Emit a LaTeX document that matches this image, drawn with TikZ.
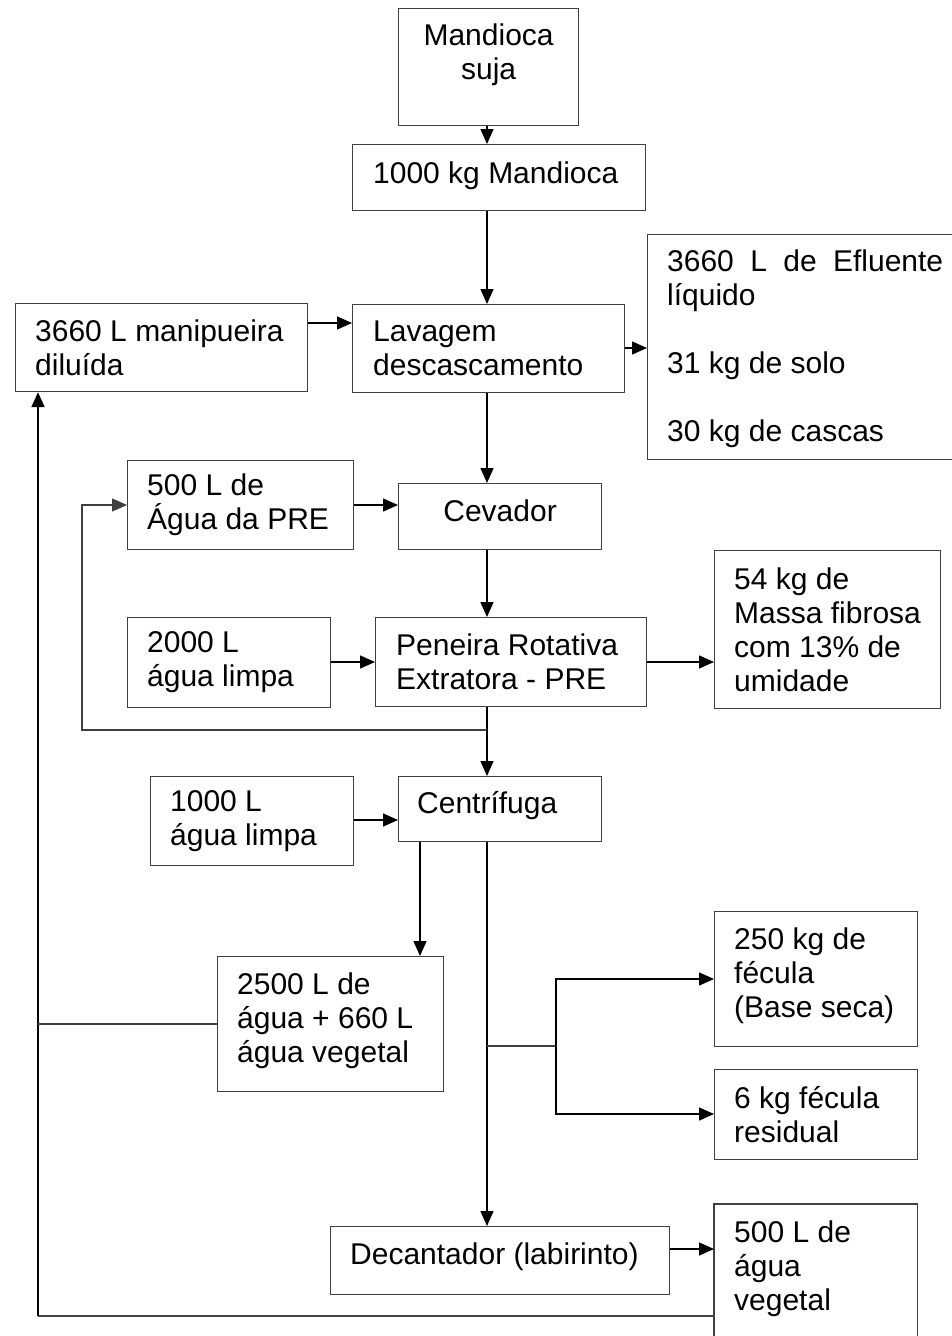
\documentclass[tikz,border=0pt]{standalone}
\usepackage{fontspec}
\setmainfont{Liberation Sans}
\usetikzlibrary{arrows.meta,calc}
\begin{document}
\begin{tikzpicture}[x=1pt,y=-1pt,
 box/.style={draw=black!75, line width=1.2pt, inner sep=0pt, anchor=north west},
 boxline/.style={draw=black!75, line width=1.2pt},
 txt/.style={font=\fontsize{30}{34}\selectfont, align=left, inner sep=0pt, anchor=west},
 ctxt/.style={font=\fontsize{30}{34}\selectfont, align=center, inner sep=0pt},
 tip/.style={-{Triangle[length=15pt,width=13pt]}},
 arr/.style={line width=1.5pt, tip},
 ln/.style={line width=1.5pt},
 thin/.style={draw=black!75, line width=1.2pt}]
\useasboundingbox (0,0) rectangle (951,1336);
\fill[white] (0,0) rectangle (951,1336);

% boxes
\node[box, minimum width=180pt, minimum height=117pt] (m1) at (398,8) {};
\node[ctxt] (m1t) at ([yshift=12pt]m1.center) {Mandioca\\suja};

\node[box, minimum width=293pt, minimum height=66pt] (m2) at (352,144) {};
\node[txt] (m2t) at ([xshift=21pt,yshift=2pt]m2.west) {1000 kg Mandioca};

\node[box, minimum width=272pt, minimum height=88pt] (lav) at (352,304) {};
\node[txt] (lavt) at ([xshift=21pt]lav.west) {Lavagem\\descascamento};

\node[box, minimum width=292pt, minimum height=88pt] (man) at (15,303) {};
\node[txt] (mant) at ([xshift=20pt]man.west) {3660 L manipueira\\diluída};

\node[box, minimum width=316pt, minimum height=225pt] (efl) at (647,234) {};
\node[txt] (eflt) at ([xshift=20pt,yshift=-2pt]efl.west) {\makebox[276pt][s]{3660 L de Efluente}\\líquido\\[34pt]31 kg de solo\\[34pt]30 kg de cascas};

\node[box, minimum width=226pt, minimum height=89pt] (pre) at (127,460) {};
\node[txt] (pret) at ([xshift=20pt]pre.west) {500 L de\\Água da PRE};

\node[box, minimum width=203pt, minimum height=66pt] (cev) at (398,483) {};
\node[ctxt] (cevt) at ([yshift=6pt]cev.center) {Cevador};

\node[box, minimum width=203pt, minimum height=90pt] (l2000) at (127,617) {};
\node[txt] (l2000t) at ([xshift=20pt]l2000.west) {2000 L\\água limpa};

\node[box, minimum width=271pt, minimum height=89pt] (pen) at (375,617) {};
\node[txt] (pent) at ([xshift=21pt]pen.west) {Peneira Rotativa\\Extratora - PRE};

\node[box, minimum width=226pt, minimum height=158pt] (fib) at (714,550) {};
\node[txt] (fibt) at ([xshift=20pt]fib.west) {54 kg de\\Massa fibrosa\\com 13\% de\\umidade};

\node[box, minimum width=203pt, minimum height=65pt] (cen) at (398,776) {};
\node[txt] (cent) at ([xshift=19pt,yshift=4pt]cen.west) {Centrífuga};

\node[box, minimum width=203pt, minimum height=89pt] (l1000) at (150,776) {};
\node[txt] (l1000t) at ([xshift=20pt]l1000.west) {1000 L\\água limpa};

\node[box, minimum width=226pt, minimum height=135pt] (agua) at (217,956) {};
\node[txt] (aguat) at ([xshift=20pt,yshift=3pt]agua.west) {2500 L de\\água + 660 L\\água vegetal};

\node[box, minimum width=203pt, minimum height=135pt] (fec) at (714,911) {};
\node[txt] (fect) at ([xshift=20pt,yshift=3pt]fec.west) {250 kg de\\fécula\\(Base seca)};

\node[box, minimum width=203pt, minimum height=90pt] (res) at (714,1069) {};
\node[txt] (rest) at ([xshift=20pt]res.west) {6 kg fécula\\residual};

\node[box, minimum width=339pt, minimum height=68pt] (dec) at (330,1226) {};
\node[txt] (dect) at ([xshift=20pt,yshift=4pt]dec.west) {Decantador (labirinto)};

\node[inner sep=0pt, anchor=north west, minimum width=203pt, minimum height=126pt] (veg) at (714,1204) {};
\draw[boxline] ($(veg.south west)+(0,20)$) -- (veg.north west) -- (veg.north east) -- ($(veg.south east)+(0,20)$);
\node[txt] (vegt) at ([xshift=20pt,yshift=-2pt]veg.west) {500 L de\\água\\vegetal};

% connectors
\coordinate (cx) at (487,0);
\draw[arr] (m1.south -| cx) -- (m2.north -| cx);
\draw[arr] (m2.south -| cx) -- (lav.north -| cx);
\draw[arr] (lav.south -| cx) -- (cev.north -| cx);
\draw[arr] (cev.south -| cx) -- (pen.north -| cx);

\coordinate (ya) at (0,323);
\draw[arr] (man.east |- ya) -- (lav.west |- ya);
\coordinate (yb) at (0,348);
\draw[arr] (lav.east |- yb) -- (efl.west |- yb);
\coordinate (yc) at (0,505);
\draw[arr] (pre.east |- yc) -- (cev.west |- yc);
\coordinate (ye) at (0,662);
\draw[arr] (l2000.east |- ye) -- (pen.west |- ye);
\draw[arr] (pen.east |- ye) -- (fib.west |- ye);
\coordinate (yf) at (0,820);
\draw[arr] (l1000.east |- yf) -- (cen.west |- yf);

\coordinate (j1) at (487,730);
\coordinate (k1) at (82,730);
\coordinate (k2) at (82,505);
\draw[ln] (pen.south -| cx) -- (j1);
\draw[arr] (j1) -- (cen.north -| cx);
\draw[thin, tip] (j1) -- (k1) -- (k2) -- (pre.west |- k2);

\coordinate (cx2) at (420,0);
\draw[arr] (cen.south -| cx2) -- (agua.north -| cx2);
\draw[arr] (cen.south -| cx) -- (dec.north -| cx);

\coordinate (b0) at (487,1046);
\coordinate (b1) at (556,1046);
\coordinate (b2) at (556,979);
\coordinate (b3) at (556,1114);
\draw[thin] (b0) -- (b1);
\draw[arr] (b1) -- (b2) -- (fec.west |- b2);
\draw[arr] (b1) -- (b3) -- (res.west |- b3);

\coordinate (yd) at (0,1249);
\draw[arr] (dec.east |- yd) -- (veg.west |- yd);

\coordinate (r1) at (38,1316);
\coordinate (rx) at (38,0);
\coordinate (r2) at (38,1024);
\draw[thin] (veg.west |- r1) -- (r1);
\draw[line width=2pt, tip] (r1) -- (man.south -| rx);
\draw[thin] (agua.west |- r2) -- (r2);
\end{tikzpicture}
\end{document}
